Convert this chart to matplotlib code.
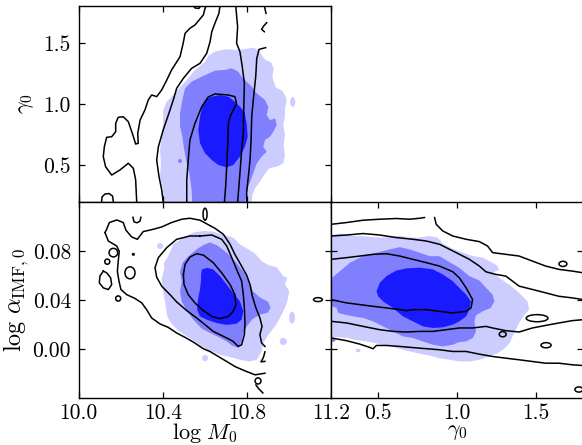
import matplotlib
matplotlib.use('Agg')
import matplotlib.pyplot as plt
from matplotlib.patches import Ellipse

plt.rcParams['font.family'] = 'serif'
plt.rcParams['font.serif'] = ['cmr10']
plt.rcParams['mathtext.fontset'] = 'cm'
plt.rcParams['axes.formatter.use_mathtext'] = True

LIGHT = '#ccccff'
MID = '#8080ff'
DARK = '#1a1aff'

# ---- axis ranges / ticks
m_lim = (10.0, 11.2)
g_lim = (0.2, 1.8)
a_lim = (-0.04, 0.12)
m_ticks = [10.0, 10.4, 10.8, 11.2]
m_labels = ['10.0', '10.4', '10.8', '11.2']
g_ticks = [0.5, 1.0, 1.5]
g_labels = ['0.5', '1.0', '1.5']
a_ticks = [0.0, 0.04, 0.08]
a_labels = ['0.00', '0.04', '0.08']

# ---- top-left: log M0 vs gamma0 (filled credible regions)
tl_light = [(10.401,0.20),(10.402,0.298),(10.387,0.407),(10.391,0.516),(10.387,0.624),(10.395,0.733),
            (10.402,0.842),(10.402,0.951),(10.419,1.019),(10.458,1.087),(10.482,1.136),(10.514,1.196),
            (10.553,1.278),(10.601,1.345),(10.616,1.392),(10.648,1.427),(10.696,1.447),(10.759,1.441),
            (10.791,1.449),(10.830,1.460),(10.854,1.441),(10.870,1.400),(10.889,1.359),(10.915,1.340),
            (10.927,1.291),(10.921,1.218),(10.937,1.136),(10.968,1.109),(10.985,1.060),(10.989,1.019),
            (10.981,0.965),(10.981,0.896),(10.973,0.829),(10.981,0.747),(10.975,0.665),(10.981,0.584),
            (10.973,0.516),(10.942,0.488),(10.905,0.475),(10.886,0.429),(10.862,0.366),(10.839,0.311),
            (10.826,0.257),(10.823,0.20)]
tl_mid = [(10.540,0.200),(10.537,0.298),(10.529,0.407),(10.514,0.516),(10.502,0.624),(10.493,0.733),
          (10.482,0.815),(10.482,0.924),(10.493,1.033),(10.506,1.128),(10.537,1.182),(10.585,1.223),
          (10.648,1.272),(10.696,1.278),(10.728,1.291),(10.759,1.264),(10.775,1.223),(10.823,1.141),
          (10.847,1.087),(10.886,1.033),(10.902,0.978),(10.894,0.910),(10.910,0.869),(10.934,0.883),
          (10.942,0.829),(10.926,0.774),(10.910,0.733),(10.886,0.706),(10.878,0.651),(10.894,0.611),
          (10.870,0.570),(10.847,0.516),(10.830,0.434),(10.807,0.325),(10.791,0.200)]
tl_dark = [(10.601,1.033),(10.633,1.060),(10.672,1.073),(10.712,1.060),(10.743,1.019),(10.767,0.978),
           (10.788,0.937),(10.799,0.842),(10.804,0.733),(10.791,0.651),(10.767,0.570),(10.735,0.502),
           (10.704,0.483),(10.664,0.502),(10.633,0.543),(10.601,0.598),(10.577,0.679),(10.569,0.788),
           (10.577,0.896),(10.588,0.978)]
tl_islands = [(11.018, 1.016, 0.024, 0.082, LIGHT), (10.482, 0.535, 0.019, 0.032, MID)]

# ---- top-left: comparison contours (black lines)
tl_outer_left = [(10.606,1.80),(10.601,1.781),(10.593,1.727),(10.553,1.645),(10.529,1.618),(10.506,1.577),
                 (10.497,1.496),(10.482,1.386),(10.442,1.278),(10.419,1.196),(10.395,1.115),(10.371,1.060),
                 (10.347,1.074),(10.331,1.033),(10.315,0.951),(10.292,0.869),(10.281,0.761),(10.283,0.679),
                 (10.271,0.673),(10.255,0.761),(10.236,0.856),(10.212,0.896),(10.188,0.891),(10.176,0.842),
                 (10.176,0.774),(10.157,0.733),(10.133,0.728),(10.122,0.651),(10.117,0.570),(10.128,0.488),
                 (10.157,0.420),(10.196,0.461),(10.236,0.516),(10.260,0.475),(10.271,0.380),(10.276,0.200)]
tl_outer_right = [(10.889,1.460),(10.858,1.446),(10.847,1.373),(10.842,1.223),(10.832,1.060),(10.823,0.896),
                  (10.820,0.706),(10.815,0.543),(10.807,0.407),(10.799,0.284),(10.799,0.200)]
tl_outer_bits = [[(10.894,1.664),(10.880,1.637),(10.870,1.610),(10.883,1.590)],
                 [(10.883,1.80),(10.891,1.740)],
                 [(10.109,0.200),(10.111,0.241),(10.125,0.265),(10.144,0.269),(10.161,0.249),(10.165,0.200)],
                 [(10.546,1.80),(10.553,1.784),(10.572,1.780),(10.579,1.80)]]
tl_middle_left = [(10.672,1.80),(10.667,1.740),(10.648,1.659),(10.633,1.590),(10.625,1.509),(10.609,1.414),
                  (10.577,1.332),(10.537,1.291),(10.498,1.210),(10.466,1.128),(10.450,1.033),(10.429,0.924),
                  (10.402,0.788),(10.379,0.651),(10.371,0.543),(10.382,0.407),(10.395,0.298),(10.402,0.200)]
tl_middle_right = [(10.747,1.80),(10.756,1.631),(10.751,1.496),(10.767,1.427),(10.778,1.305),(10.788,1.169),
                   (10.785,0.951),(10.783,0.761),(10.775,0.624),(10.767,0.434),(10.756,0.200)]
tl_inner = [(10.514,0.200),(10.514,0.380),(10.521,0.543),(10.529,0.706),(10.553,0.842),(10.585,0.976),
            (10.616,1.057),(10.648,1.082),(10.672,1.079),(10.712,1.073),(10.743,1.060),(10.751,1.006),
            (10.735,0.951),(10.720,0.896),(10.712,0.842),(10.709,0.679),(10.704,0.488),(10.699,0.325),
            (10.693,0.200)]

# ---- bottom-left: log M0 vs log alpha_IMF,0
bl_light = [(10.426,0.0758),(10.450,0.0854),(10.498,0.0909),(10.545,0.0950),(10.593,0.0963),(10.640,0.0958),
            (10.688,0.0930),(10.735,0.0909),(10.767,0.0854),(10.807,0.0813),(10.839,0.0777),(10.870,0.0717),
            (10.902,0.0684),(10.942,0.0667),(10.973,0.0594),(10.992,0.0580),(10.981,0.0525),(11.002,0.0470),
            (10.992,0.0388),(10.981,0.0334),(10.957,0.0252),(10.934,0.0183),(10.902,0.0115),(10.878,0.0047),
            (10.870,-0.0022),(10.847,-0.0090),(10.811,-0.0104),(10.767,-0.0090),(10.720,-0.0068),
            (10.672,-0.0049),(10.624,-0.0016),(10.585,0.0019),(10.553,0.0060),(10.514,0.0101),(10.474,0.0148),
            (10.442,0.0203),(10.421,0.0265),(10.414,0.0347),(10.406,0.0429),(10.398,0.0511),(10.395,0.0580),
            (10.407,0.0649),(10.406,0.0704)]
bl_mid = [(10.591,0.0846),(10.624,0.0870),(10.658,0.0846),(10.704,0.0786),(10.751,0.0704),(10.775,0.0649),
          (10.799,0.0599),(10.815,0.0525),(10.830,0.0468),(10.862,0.0419),(10.900,0.0386),(10.913,0.0337),
          (10.900,0.0296),(10.862,0.0279),(10.829,0.0246),(10.799,0.0183),(10.783,0.0129),(10.775,0.0060),
          (10.759,0.0008),(10.728,0.0027),(10.704,0.0060),(10.672,0.0090),(10.624,0.0131),(10.586,0.0164),
          (10.545,0.0238),(10.514,0.0312),(10.490,0.0386),(10.482,0.0468),(10.490,0.0550),(10.482,0.0632),
          (10.495,0.0706),(10.521,0.0755),(10.561,0.0813)]
bl_dark = [(10.582,0.0608),(10.586,0.0649),(10.610,0.0661),(10.640,0.0649),(10.672,0.0594),(10.704,0.0525),
           (10.735,0.0457),(10.767,0.0388),(10.783,0.0306),(10.775,0.0238),(10.751,0.0205),(10.704,0.0195),
           (10.656,0.0210),(10.609,0.0238),(10.577,0.0265),(10.563,0.0320),(10.567,0.0402),(10.577,0.0484),
           (10.582,0.0566)]
bl_islands = [(10.387,0.0840,0.028,0.0050,LIGHT),(10.601,-0.0076,0.028,0.0050,LIGHT),
              (10.973,0.0060,0.034,0.0058,LIGHT),(11.015,0.0255,0.028,0.0098,LIGHT)]

bl_outer = [(10.125,0.0950),(10.133,0.0977),(10.146,0.1032),(10.181,0.1053),(10.212,0.1032),(10.225,0.0969),
            (10.252,0.0914),(10.279,0.0895),(10.307,0.0958),(10.355,0.0977),(10.395,0.0996),(10.442,0.1032),
            (10.490,0.1059),(10.529,0.1067),(10.577,0.1051),(10.648,0.0985),(10.688,0.0936),(10.720,0.0854),
            (10.743,0.0772),(10.770,0.0690),(10.799,0.0602),(10.815,0.0525),(10.826,0.0429),(10.843,0.0334),
            (10.862,0.0252),(10.872,0.0183),(10.862,0.0115),(10.870,0.0047),(10.886,0.0019)]
bl_outer_low = [(10.886,-0.0200),(10.839,-0.0213),(10.791,-0.0181),(10.743,-0.0145),(10.704,-0.0104),
                (10.664,-0.0063),(10.624,-0.0022),(10.593,0.0000),(10.545,0.0055),(10.506,0.0093),
                (10.466,0.0129),(10.426,0.0175),(10.387,0.0203),(10.347,0.0252),(10.323,0.0320),
                (10.300,0.0375),(10.268,0.0411),(10.228,0.0443),(10.201,0.0484),(10.192,0.0550),
                (10.184,0.0632),(10.188,0.0714),(10.193,0.0796),(10.181,0.0840),(10.141,0.0881),(10.125,0.0950)]
bl_bits = [[(10.886,-0.0025),(10.878,-0.0074),(10.867,-0.0107),(10.886,-0.0103)],
           [(10.258,0.1075),(10.263,0.1038),(10.277,0.1030),(10.291,0.1042),(10.296,0.1075)],
           [(10.843,-0.0296),(10.857,-0.0328),(10.876,-0.0361)],
           [(10.117,0.0635),(10.101,0.0594),(10.098,0.0539),(10.117,0.0498),(10.141,0.0484),
            (10.157,0.0525),(10.152,0.0580),(10.133,0.0621),(10.117,0.0635)]]
bl_loops = [(10.165,0.0786,0.041,0.0070),(10.136,0.0712,0.024,0.0042),(10.244,0.0621,0.048,0.0098),
            (10.188,0.0411,0.024,0.0042),(10.601,0.1100,0.019,0.0098),(11.138,0.0402,0.042,0.0032),
            (10.853,-0.0263,0.028,0.0050),(10.260,0.0772,0.008,0.0012)]
bl_middle = [(10.577,0.0922),(10.633,0.0930),(10.680,0.0895),(10.704,0.0840),(10.728,0.0745),(10.751,0.0649),
             (10.775,0.0553),(10.783,0.0443),(10.788,0.0334),(10.791,0.0211),(10.788,0.0115),(10.775,0.0033),
             (10.759,0.0019),(10.735,0.0060),(10.704,0.0088),(10.672,0.0115),(10.640,0.0142),(10.601,0.0197),
             (10.561,0.0252),(10.514,0.0312),(10.466,0.0383),(10.434,0.0443),(10.395,0.0511),(10.371,0.0585),
             (10.363,0.0663),(10.379,0.0745),(10.419,0.0827),(10.466,0.0895),(10.529,0.0922),(10.577,0.0922)]
bl_inner = [(10.498,0.0608),(10.506,0.0690),(10.529,0.0750),(10.561,0.0777),(10.593,0.0766),(10.640,0.0704),
            (10.680,0.0621),(10.720,0.0525),(10.743,0.0443),(10.748,0.0361),(10.735,0.0306),(10.712,0.0265),
            (10.672,0.0246),(10.633,0.0265),(10.593,0.0312),(10.553,0.0375),(10.521,0.0443),(10.501,0.0525),
            (10.498,0.0608)]

# ---- bottom-right: gamma0 vs log alpha_IMF,0
br_light = [(0.204,0.0930),(0.257,0.0942),(0.341,0.0923),(0.425,0.0918),(0.509,0.0909),(0.572,0.0914),
            (0.636,0.0922),(0.699,0.0909),(0.762,0.0909),(0.825,0.0922),(0.878,0.0909),(0.909,0.0859),
            (0.972,0.0818),(1.036,0.0786),(1.099,0.0758),(1.162,0.0745),(1.204,0.0717),(1.251,0.0684),
            (1.267,0.0649),(1.229,0.0622),(1.267,0.0580),(1.330,0.0525),(1.393,0.0457),(1.446,0.0388),
            (1.456,0.0320),(1.425,0.0274),(1.393,0.0211),(1.372,0.0156),(1.351,0.0101),(1.334,0.0047),
            (1.299,0.0000),(1.257,-0.0036),(1.204,-0.0063),(1.141,-0.0090),(1.078,-0.0104),(1.015,-0.0104),
            (0.952,-0.0090),(0.888,-0.0077),(0.825,-0.0055),(0.762,-0.0039),(0.699,-0.0022),(0.636,0.0000),
            (0.552,0.0027),(0.489,0.0044),(0.425,0.0060),(0.362,0.0071),(0.299,0.0090),(0.204,0.0098)]
br_mid = [(0.204,0.0579),(0.257,0.0634),(0.320,0.0703),(0.404,0.0757),(0.488,0.0785),(0.572,0.0812),
          (0.636,0.0831),(0.699,0.0812),(0.762,0.0785),(0.825,0.0757),(0.888,0.0757),(0.941,0.0716),
          (1.014,0.0662),(1.078,0.0593),(1.141,0.0558),(1.183,0.0498),(1.225,0.0443),(1.236,0.0388),
          (1.214,0.0334),(1.162,0.0306),(1.120,0.0274),(1.109,0.0224),(1.120,0.0142),(1.099,0.0088),
          (1.057,0.0060),(1.014,0.0055),(0.972,0.0033),(0.909,0.0019),(0.846,0.0033),(0.783,0.0060),
          (0.720,0.0088),(0.656,0.0101),(0.593,0.0142),(0.530,0.0183),(0.467,0.0224),(0.404,0.0252),
          (0.341,0.0265),(0.288,0.0279),(0.246,0.0293),(0.236,0.0334),(0.204,0.0347)]
br_dark = [(0.489,0.0470),(0.509,0.0539),(0.552,0.0594),(0.615,0.0640),(0.678,0.0657),(0.762,0.0663),
           (0.846,0.0649),(0.909,0.0608),(0.972,0.0553),(1.014,0.0498),(1.057,0.0443),(1.088,0.0388),
           (1.078,0.0320),(1.057,0.0265),(1.014,0.0224),(0.972,0.0197),(0.909,0.0175),(0.846,0.0170),
           (0.783,0.0183),(0.720,0.0224),(0.656,0.0265),(0.593,0.0334),(0.530,0.0388),(0.499,0.0429)]
br_islands = [(0.372,-0.0014,0.030,0.0030,LIGHT),(0.216,0.0074,0.025,0.0035,MID)]

br_outer_top = [[(0.204,0.1018),(0.299,0.1032),(0.404,0.1051),(0.509,0.1059),(0.615,0.1065),(0.699,0.1059),
                 (0.762,0.1067),(0.793,0.1073)],
                [(0.857,0.1073),(0.867,0.1018),(0.909,0.0963),(0.972,0.0922),(1.057,0.0895),(1.141,0.0876),
                 (1.193,0.0840),(1.225,0.0786),(1.309,0.0772),(1.393,0.0758),(1.477,0.0717),(1.562,0.0676),
                 (1.646,0.0649),(1.730,0.0635),(1.800,0.0621)]]
br_outer_low = [(0.204,0.0088),(0.299,0.0066),(0.383,0.0038),(0.446,0.0011),(0.467,0.0000),(0.488,0.0027),
                (0.552,0.0027),(0.636,0.0019),(0.762,0.0005),(0.888,-0.0008),(0.972,-0.0022),(1.057,-0.0022),
                (1.141,-0.0044),(1.225,-0.0063),(1.309,-0.0077),(1.393,-0.0090),(1.477,-0.0104),
                (1.562,-0.0118),(1.646,-0.0118),(1.730,-0.0131),(1.800,-0.0137)]
br_middle_top = [(0.204,0.0922),(0.299,0.0930),(0.404,0.0942),(0.509,0.0930),(0.615,0.0909),(0.720,0.0895),
                 (0.804,0.0881),(0.889,0.0854),(0.952,0.0813),(1.015,0.0772),(1.078,0.0731),(1.141,0.0676),
                 (1.183,0.0629),(1.246,0.0608),(1.309,0.0594),(1.351,0.0553),(1.393,0.0512),(1.477,0.0485),
                 (1.562,0.0457),(1.646,0.0429),(1.730,0.0416),(1.800,0.0402)]
br_middle_low = [(0.204,0.0224),(0.299,0.0211),(0.404,0.0183),(0.509,0.0156),(0.593,0.0142),(0.678,0.0137),
                 (0.762,0.0142),(0.846,0.0142),(0.930,0.0156),(1.014,0.0170),(1.098,0.0170),(1.183,0.0183),
                 (1.225,0.0170),(1.309,0.0148),(1.393,0.0137),(1.477,0.0170),(1.562,0.0191),(1.646,0.0211),
                 (1.730,0.0230),(1.800,0.0238)]
br_inner = [(0.200,0.0731),(0.299,0.0745),(0.383,0.0758),(0.467,0.0772),(0.552,0.0777),(0.636,0.0758),
            (0.720,0.0731),(0.804,0.0704),(0.888,0.0676),(0.972,0.0630),(1.014,0.0580),(1.057,0.0498),
            (1.098,0.0402),(1.088,0.0334),(1.057,0.0306),(0.972,0.0293),(0.888,0.0306),(0.804,0.0320),
            (0.720,0.0320),(0.678,0.0312),(0.636,0.0320),(0.552,0.0334),(0.467,0.0347),(0.383,0.0361),
            (0.299,0.0375),(0.200,0.0402)]
br_loops = [(1.671,0.0694,0.050,0.0042),(1.507,0.0250,0.138,0.0058),(1.289,0.0119,0.044,0.0042),
            (1.564,0.0029,0.064,0.0042),(1.772,-0.0333,0.050,0.0042)]


def fill(ax, pts, color):
    xs, ys = zip(*pts)
    ax.fill(xs, ys, color=color, lw=0, zorder=1)


def line(ax, pts):
    xs, ys = zip(*pts)
    ax.plot(xs, ys, color='k', lw=1.1, zorder=3, solid_joinstyle='round')


def blobs(ax, items):
    for cx, cy, w, h, c in items:
        ax.add_patch(Ellipse((cx, cy), w, h, facecolor=c, edgecolor='none', zorder=1))


def loops(ax, items):
    for cx, cy, w, h in items:
        ax.add_patch(Ellipse((cx, cy), w, h, facecolor='none', edgecolor='k', lw=1.1, zorder=3))


def style(ax):
    ax.tick_params(direction='in', top=True, right=True, length=4, width=0.9, labelsize=15.5, pad=5.5)
    ax.tick_params(axis='x', pad=4)
    for s in ax.spines.values():
        s.set_linewidth(1.0)


fig = plt.figure(figsize=(5.82, 4.45), dpi=100)
W = 0.4335
ax_tl = fig.add_axes([0.1352, 0.5461, W, 0.4404])
ax_bl = fig.add_axes([0.1352, 0.1063, W, 0.4398])
ax_br = fig.add_axes([0.5687, 0.1063, W, 0.4398])

# top-left
for pts, c in [(tl_light, LIGHT), (tl_mid, MID), (tl_dark, DARK)]:
    fill(ax_tl, pts, c)
blobs(ax_tl, tl_islands)
for pts in [tl_outer_left, tl_outer_right, tl_middle_left, tl_middle_right, tl_inner] + tl_outer_bits:
    line(ax_tl, pts)
ax_tl.set_xlim(*m_lim)
ax_tl.set_ylim(*g_lim)
ax_tl.set_xticks(m_ticks)
ax_tl.set_xticklabels([])
ax_tl.set_yticks(g_ticks)
ax_tl.set_yticklabels(g_labels)
ax_tl.set_ylabel(r'$\gamma_0$', fontsize=16, labelpad=5)
style(ax_tl)

# bottom-left
for pts, c in [(bl_light, LIGHT), (bl_mid, MID), (bl_dark, DARK)]:
    fill(ax_bl, pts, c)
blobs(ax_bl, bl_islands)
for pts in [bl_outer, bl_outer_low, bl_middle, bl_inner] + bl_bits:
    line(ax_bl, pts)
loops(ax_bl, bl_loops)
ax_bl.set_xlim(*m_lim)
ax_bl.set_ylim(*a_lim)
ax_bl.set_xticks(m_ticks)
ax_bl.set_xticklabels(m_labels)
ax_bl.set_yticks(a_ticks)
ax_bl.set_yticklabels(a_labels)
ax_bl.set_xlabel(r'$\log\,M_0$', fontsize=16, labelpad=-1)
ax_bl.set_ylabel(r'$\log\,\alpha_{\rm IMF,0}$', fontsize=17.5, labelpad=1)
style(ax_bl)

# bottom-right
for pts, c in [(br_light, LIGHT), (br_mid, MID), (br_dark, DARK)]:
    fill(ax_br, pts, c)
blobs(ax_br, br_islands)
for pts in br_outer_top + [br_outer_low, br_middle_top, br_middle_low, br_inner]:
    line(ax_br, pts)
loops(ax_br, br_loops)
ax_br.set_xlim(*g_lim)
ax_br.set_ylim(*a_lim)
ax_br.set_xticks(g_ticks)
ax_br.set_xticklabels(g_labels)
ax_br.set_yticks(a_ticks)
ax_br.set_yticklabels([])
ax_br.set_xlabel(r'$\gamma_0$', fontsize=16, labelpad=0)
style(ax_br)

fig.savefig('out.png', dpi=100)
